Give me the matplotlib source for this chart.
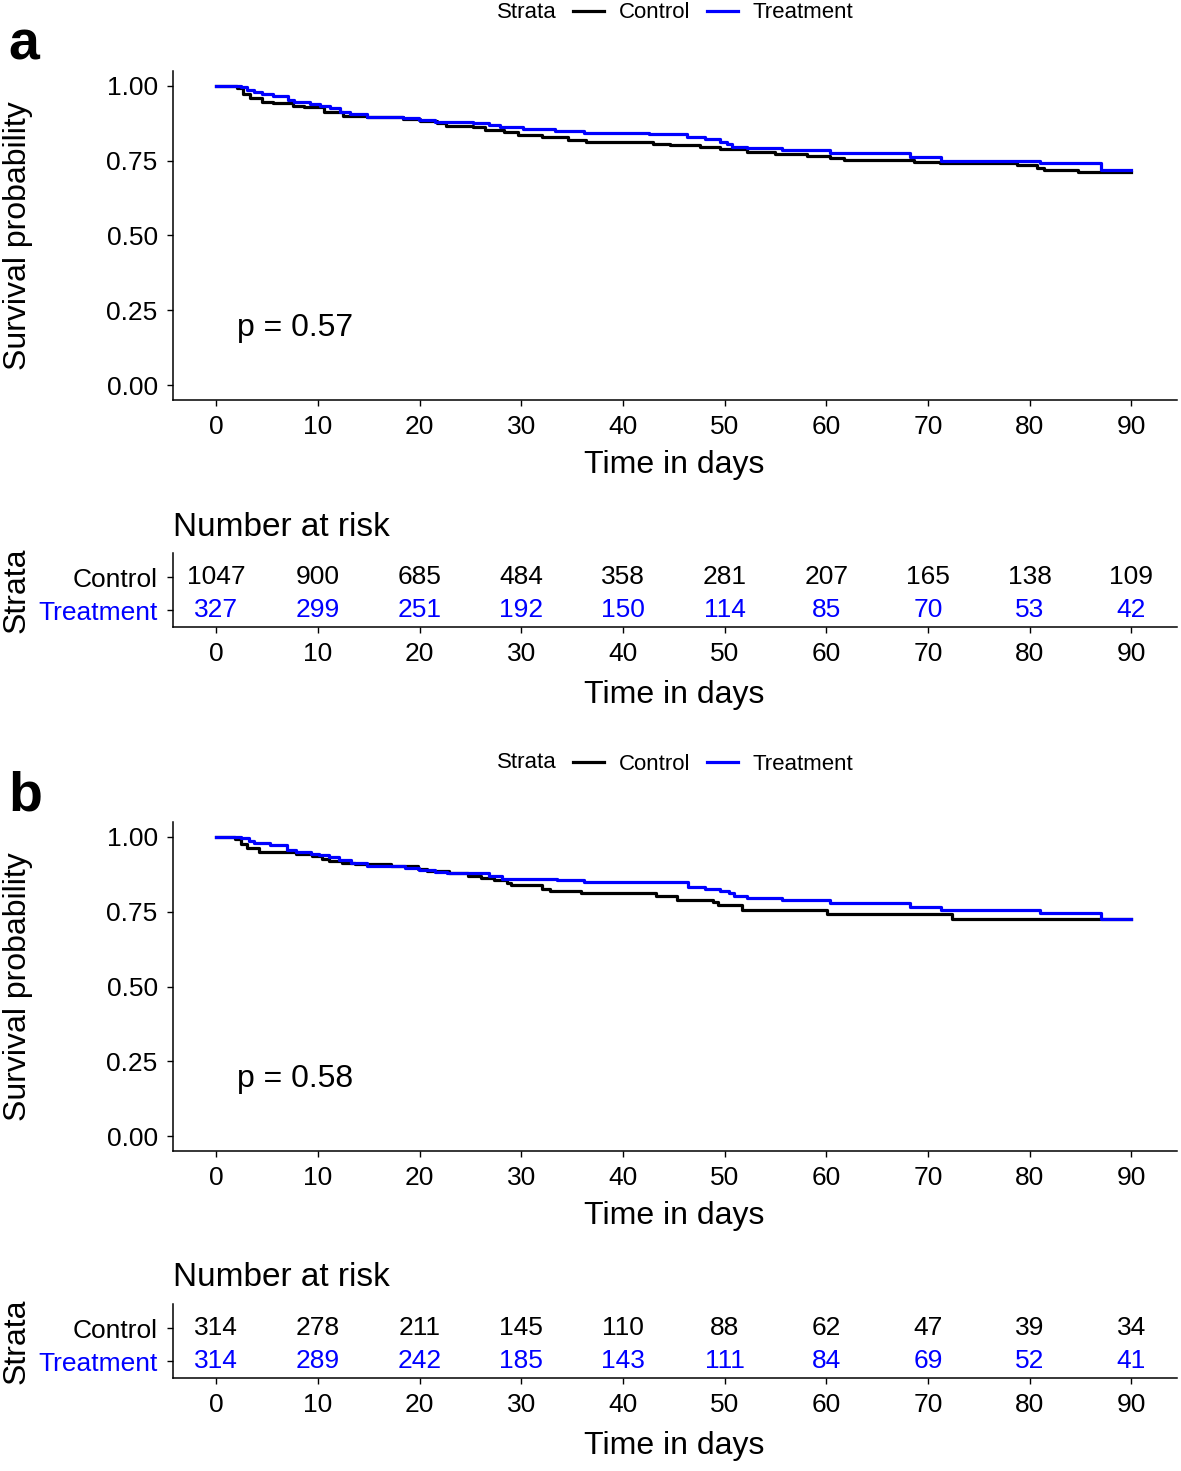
import matplotlib
matplotlib.use("Agg")
import matplotlib.pyplot as plt
from matplotlib.lines import Line2D

plt.rcParams['font.family'] = ['Liberation Sans', 'DejaVu Sans']

# --- data ---
groups = ['Control', 'Treatment']
colors = ['black', '#0000FF']
risk_days = [0, 10, 20, 30, 40, 50, 60, 70, 80, 90]

# panel a
a_ctrl_t = [0, 2.0, 2.6, 3.3, 4.5, 5.6, 7.6, 8.6, 10.6, 12.5, 14.8, 18.4, 20, 21.7, 22.6, 25.3,
            26.4, 28.3, 29.7, 32, 34.6, 36.4, 43, 44.6, 47.6, 49.6, 52.2, 55, 58.1, 60.4, 61.7,
            68.6, 71.2, 78.8, 80.7, 81.4, 84.8, 90]
a_ctrl_s = [1.00, 0.992, 0.972, 0.96, 0.948, 0.942, 0.934, 0.929, 0.914, 0.90, 0.897, 0.89, 0.884,
            0.875, 0.867, 0.862, 0.853, 0.845, 0.836, 0.828, 0.819, 0.814, 0.807, 0.803, 0.795,
            0.79, 0.78, 0.773, 0.767, 0.76, 0.753, 0.747, 0.744, 0.736, 0.725, 0.719, 0.713, 0.713]
a_trt_t = [0, 2.4, 3.0, 3.7, 4.5, 5.6, 7.1, 7.7, 9.2, 10.2, 11.2, 12.2, 13.2, 14.8, 18.4, 19.9,
           21.5, 25.3, 26.8, 27.9, 30.2, 33.3, 36.2, 42.6, 46.3, 48.1, 49.6, 50.2, 50.7, 52.2,
           55.6, 60.4, 68.2, 71.3, 81, 87, 90]
a_trt_s = [1.00, 0.995, 0.987, 0.979, 0.973, 0.968, 0.953, 0.946, 0.94, 0.934, 0.926, 0.914, 0.905,
           0.897, 0.892, 0.886, 0.878, 0.875, 0.87, 0.862, 0.856, 0.848, 0.844, 0.838, 0.828,
           0.821, 0.813, 0.805, 0.797, 0.792, 0.786, 0.775, 0.764, 0.749, 0.742, 0.719, 0.719]
a_risk_ctrl = [1047, 900, 685, 484, 358, 281, 207, 165, 138, 109]
a_risk_trt = [327, 299, 251, 192, 150, 114, 85, 70, 53, 42]
a_p = 'p = 0.57'

# panel b
b_ctrl_t = [0, 1.8, 2.4, 3.0, 4.2, 7.8, 9.4, 10.4, 11.1, 12.4, 13.7, 17.2, 19.8, 20.7, 22.9, 24.8,
            26, 27.3, 28.6, 29.0, 32, 32.8, 35.9, 43.3, 45.3, 48.9, 49.4, 51.7, 60.1, 72.4, 90]
b_ctrl_s = [1.00, 0.993, 0.977, 0.963, 0.95, 0.944, 0.937, 0.927, 0.918, 0.913, 0.911, 0.902, 0.893,
            0.886, 0.878, 0.871, 0.864, 0.855, 0.845, 0.838, 0.825, 0.819, 0.814, 0.803, 0.790,
            0.781, 0.772, 0.756, 0.743, 0.726, 0.726]
b_trt_t = [0, 2.4, 3.2, 3.7, 5.3, 7.0, 7.8, 9.3, 10.1, 11.1, 12.1, 13.3, 14.8, 18.6, 19.9, 21.5,
           22.7, 26.8, 28.1, 33.5, 36.2, 46.4, 48.1, 49.6, 50.4, 50.9, 52.2, 55.6, 60.4, 68.2,
           71.3, 81, 87, 90]
b_trt_s = [1.00, 0.997, 0.988, 0.979, 0.974, 0.957, 0.949, 0.944, 0.938, 0.933, 0.922, 0.913, 0.902,
           0.897, 0.891, 0.883, 0.878, 0.869, 0.86, 0.855, 0.85, 0.833, 0.825, 0.819, 0.811,
           0.803, 0.795, 0.789, 0.779, 0.767, 0.756, 0.745, 0.726, 0.726]
b_risk_ctrl = [314, 278, 211, 145, 110, 88, 62, 47, 39, 34]
b_risk_trt = [314, 289, 242, 185, 143, 111, 84, 69, 52, 41]
b_p = 'p = 0.58'

W, H = 1181, 1471
fig = plt.figure(figsize=(W / 100, H / 100), dpi=100)


def px_axes(left, top, right, bottom):
    return fig.add_axes([left / W, 1 - bottom / H, (right - left) / W, (bottom - top) / H])


def style(ax):
    for s in ['top', 'right']:
        ax.spines[s].set_visible(False)
    for s in ['left', 'bottom']:
        ax.spines[s].set_linewidth(1.1)
    ax.tick_params(length=4, width=1.0, labelsize=19, pad=7, colors='black')
    ax.set_xlim(-4.25, 94.5)
    ax.set_xticks(risk_days)


def panel(y0, letter, curves, risk, ptext):
    # main survival plot
    ax = px_axes(173, y0 + 71, 1177, y0 + 400)
    style(ax)
    for (t, s), c in zip(curves, colors):
        ax.step(t, s, where='post', color=c, lw=2.3)
    ax.set_ylim(-0.05, 1.05)
    ax.set_yticks([0, 0.25, 0.5, 0.75, 1.0])
    ax.set_yticklabels(['0.00', '0.25', '0.50', '0.75', '1.00'])
    ax.set_xlabel('Time in days', fontsize=23, va='center')
    ax.xaxis.set_label_coords(0.499, -0.197)
    ax.set_ylabel('Survival probability', fontsize=23, va='center')
    ax.yaxis.set_label_coords(-0.154, 0.5)
    ax.text(2, 0.19, ptext, fontsize=23, ha='left', va='center')

    # legend
    fig.text(557 / W, 1 - (y0 + 12) / H, 'Strata', fontsize=16, ha='right', va='center')
    handles = [Line2D([], [], color=c, lw=2.3) for c in colors]
    fig.legend(handles, groups, loc='center left', bbox_to_anchor=(573 / W, 1 - (y0 + 13) / H),
               ncol=2, frameon=False, fontsize=16, handlelength=1.4, handletextpad=0.65,
               columnspacing=0.75, borderpad=0, borderaxespad=0)

    # panel letter
    fig.text(8 / W, 1 - (y0 + 46) / H, letter, fontsize=40, fontweight='bold', va='center')

    # risk table
    rt = px_axes(173, y0 + 553, 1177, y0 + 627)
    style(rt)
    rt.set_ylim(0.5, 2.73)
    rt.set_yticks([2, 1])
    rt.set_yticklabels(groups)
    for lab, c in zip(rt.get_yticklabels(), colors):
        lab.set_color(c)
    for row, vals, c in zip([2, 1], risk, colors):
        for d, v in zip(risk_days, vals):
            rt.text(d, row, str(v), ha='center', va='center', fontsize=19, color=c)
    rt.set_xlabel('Time in days', fontsize=23, va='center')
    rt.xaxis.set_label_coords(0.499, -0.92)
    rt.set_ylabel('Strata', fontsize=23, va='center')
    rt.yaxis.set_label_coords(-0.156, 0.49)
    rt.text(0, 1 + 26 / 74, 'Number at risk', transform=rt.transAxes, fontsize=24,
            ha='left', va='center')


panel(0, 'a', [(a_ctrl_t, a_ctrl_s), (a_trt_t, a_trt_s)], [a_risk_ctrl, a_risk_trt], a_p)
panel(751, 'b', [(b_ctrl_t, b_ctrl_s), (b_trt_t, b_trt_s)], [b_risk_ctrl, b_risk_trt], b_p)

fig.savefig('out.png', dpi=100, facecolor='white')
